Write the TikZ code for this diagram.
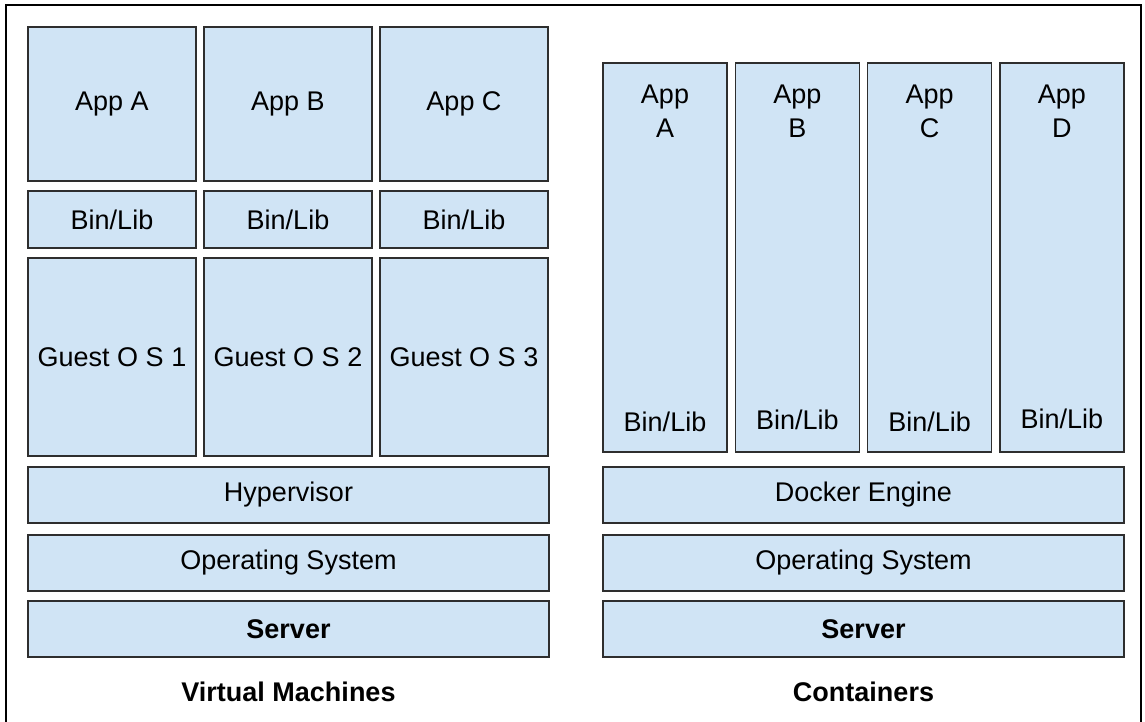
\documentclass[tikz,border=0pt]{standalone}
\usepackage{fontspec}
\setmainfont{Liberation Sans}
\usepackage{tikz}
\usetikzlibrary{
    positioning
}
\definecolor{layerfill}{HTML}{D0E4F5}
\definecolor{layerdraw}{HTML}{2E2E2E}
\tikzset{
    layer/.style={
        rectangle,
        draw=layerdraw,
        fill=layerfill,
        line width=1.6pt,
        inner sep=0pt,
        outer sep=0pt,
        align=center,
        font=\fontsize{27}{34}\selectfont
    },
    vmbox/.style={
        layer,
        minimum width=168pt
    },
    widebox/.style={
        layer,
        minimum width=521pt,
        minimum height=56pt
    },
    ctbox/.style={
        layer,
        minimum width=124pt,
        minimum height=389pt
    },
    celltext/.style={
        inner sep=0pt,
        align=center,
        font=\fontsize{27}{34}\selectfont
    },
    caption/.style={
        inner sep=0pt,
        font=\bfseries\fontsize{27}{32}\selectfont
    }
}

\begin{document}
\begin{tikzpicture}[x=1pt, y=-1pt]
\useasboundingbox (0,0) rectangle (1145,722);
\draw[line width=2.5pt] (6,722) -- (6,5) -- (1141,5) -- (1141,722);

% virtual machines
\node[vmbox, minimum height=154pt, anchor=north west] (appA) at (28,27) {App A};
\node[vmbox, minimum height=154pt, right=8pt of appA] (appB) {App B};
\node[vmbox, minimum height=154pt, right=8pt of appB] (appC) {App C};

\node[vmbox, minimum height=57pt, below=10pt of appA] (binA) {Bin/Lib};
\node[vmbox, minimum height=57pt, below=10pt of appB] (binB) {Bin/Lib};
\node[vmbox, minimum height=57pt, below=10pt of appC] (binC) {Bin/Lib};

\node[vmbox, minimum height=198pt, below=10pt of binA] (guestA) {Guest O S 1};
\node[vmbox, minimum height=198pt, below=10pt of binB] (guestB) {Guest O S 2};
\node[vmbox, minimum height=198pt, below=10pt of binC] (guestC) {Guest O S 3};

\node[widebox, below=11pt of guestA.south west, anchor=north west] (hyper) {Hypervisor};
\node[widebox, below=12pt of hyper] (vmos) {Operating System};
\node[widebox, below=10pt of vmos] (vmserver) {\bfseries Server};
\node[caption, below=25pt of vmserver] (vmcap) {Virtual Machines};

% containers
\node[ctbox, anchor=north west] (ctA) at (603,63) {};
\node[ctbox, right=8.3pt of ctA] (ctB) {};
\node[ctbox, right=8.3pt of ctB] (ctC) {};
\node[ctbox, right=8.3pt of ctC] (ctD) {};

\node[celltext, below=22pt of ctA.north] (ctappA) {App\\A};
\node[celltext, below=22pt of ctB.north] (ctappB) {App\\B};
\node[celltext, below=22pt of ctC.north] (ctappC) {App\\C};
\node[celltext, below=22pt of ctD.north] (ctappD) {App\\D};

\node[celltext, above=21pt of ctA.south, anchor=base] (ctbinA) {Bin/Lib};
\node[celltext, above=23pt of ctB.south, anchor=base] (ctbinB) {Bin/Lib};
\node[celltext, above=21pt of ctC.south, anchor=base] (ctbinC) {Bin/Lib};
\node[celltext, above=24pt of ctD.south, anchor=base] (ctbinD) {Bin/Lib};

\node[widebox, below=15pt of ctA.south west, anchor=north west] (docker) {Docker Engine};
\node[widebox, below=12pt of docker] (ctos) {Operating System};
\node[widebox, below=10pt of ctos] (ctserver) {\bfseries Server};
\node[caption, below=25pt of ctserver] (ctcap) {Containers};
\end{tikzpicture}
\end{document}
